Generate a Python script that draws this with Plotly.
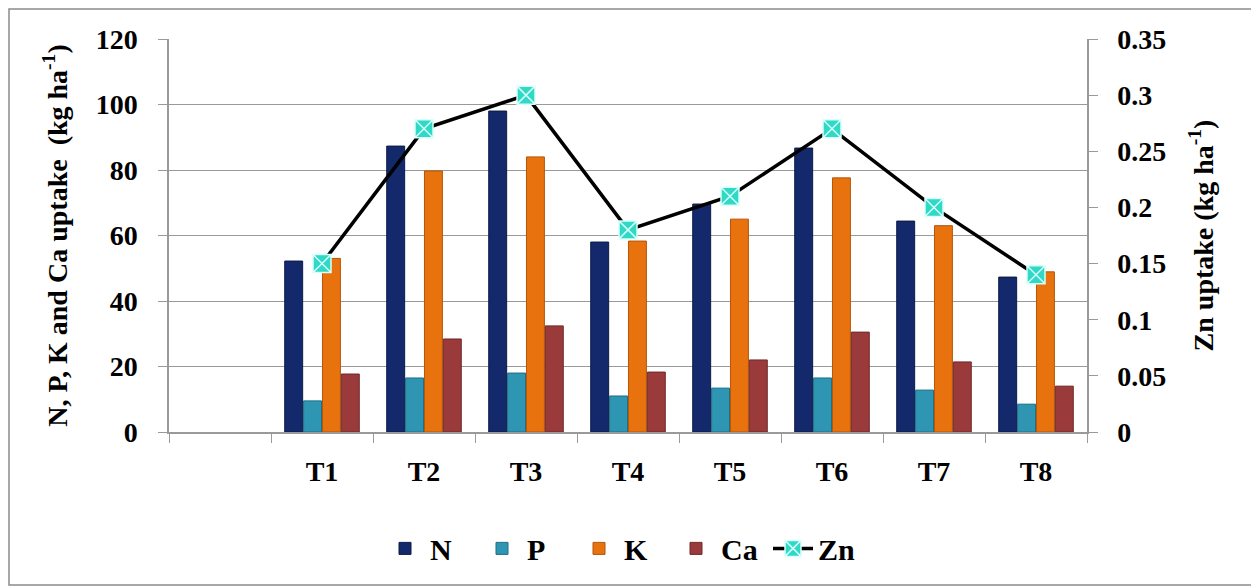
import plotly.graph_objects as go

categories = ["T1", "T2", "T3", "T4", "T5", "T6", "T7", "T8"]
axis_categories = [" "] + categories
N = [52.2, 87.3, 98.0, 58.0, 69.6, 86.7, 64.4, 47.3]
P = [9.5, 16.5, 18.0, 11.0, 13.4, 16.5, 12.8, 8.5]
K = [53.0, 79.7, 84.0, 58.3, 65.0, 77.6, 63.0, 48.9]
Ca = [17.7, 28.4, 32.4, 18.3, 22.0, 30.5, 21.4, 14.0]
Zn = [0.15, 0.27, 0.30, 0.18, 0.21, 0.27, 0.20, 0.14]

FONT = "Liberation Serif"
TICKF = dict(family=FONT, size=28, color="black", weight="bold")
TITLEF = dict(family=FONT, size=28, color="black", weight="bold")

fig = go.Figure()
for name, vals, col, lc in [("N", N, "#13296B", "#0A1A48"),
                             ("P", P, "#2E95B3", "#1F6E86"),
                             ("K", K, "#E8720E", "#B45508"),
                             ("Ca", Ca, "#9A3A3A", "#702828")]:
    fig.add_trace(go.Bar(x=categories, y=vals, name=name,
                         marker=dict(color=col, line=dict(color=lc, width=1))))
fig.add_trace(go.Scatter(x=categories, y=Zn, name="Zn", yaxis="y2", mode="lines+markers",
                         line=dict(color="black", width=3.5),
                         marker=dict(symbol="square-x", size=18, color="#2FD9C6",
                                     line=dict(color="#D8FFFA", width=1.5))))

grid = "#9A9A9A"
fig.update_layout(
    width=1259, height=588,
    margin=dict(l=161, r=180, t=31, b=164),
    paper_bgcolor="white", plot_bgcolor="white",
    font=dict(family=FONT, color="black", size=20),
    barmode="group", bargap=0.26, bargroupgap=0.05,
    showlegend=True,
    legend=dict(orientation="h", x=(380 - 169) / 918, xanchor="left", y=-0.23, yanchor="top",
                font=dict(family=FONT, size=30, color="black", weight="bold"),
                entrywidth=42, entrywidthmode="pixels", itemwidth=40, tracegroupgap=0),
    xaxis=dict(type="category", categoryorder="array", categoryarray=axis_categories,
               range=[-0.5, 8.5], tickson="boundaries", ticks="outside", ticklen=9,
               tickcolor=grid, showline=True, linecolor=grid, linewidth=1.5,
               showgrid=False, ticklabelstandoff=14, tickfont=TICKF),
    yaxis=dict(range=[0, 120], dtick=20, ticks="outside", ticklen=9, tickcolor=grid,
               showline=True, linecolor=grid, linewidth=1.5, showgrid=True,
               gridcolor=grid, gridwidth=1, zeroline=False, ticklabelstandoff=15,
               tickfont=TICKF,
               title=dict(text="N, P, K and Ca uptake  (kg ha<sup>-1</sup>)", standoff=20,
                          font=TITLEF)),
    yaxis2=dict(overlaying="y", side="right", range=[0, 0.35], dtick=0.05,
                ticks="outside", ticklen=9, tickcolor=grid, showline=True, linecolor=grid,
                linewidth=1.5, showgrid=False, zeroline=False, ticklabelstandoff=14,
                tickfont=TICKF,
                title=dict(text="Zn uptake (kg ha<sup>-1</sup>)", standoff=28,
                           font=TITLEF)),
)
fig.add_shape(type="rect", xref="paper", yref="paper",
              x0=(9 - 169) / 918, x1=(1254 - 169) / 918,
              y0=(432 - 585) / 393, y1=(432 - 9) / 393,
              line=dict(color="#8C8C8C", width=1.5), fillcolor="rgba(0,0,0,0)", layer="below")
fig.write_html("out.html")
